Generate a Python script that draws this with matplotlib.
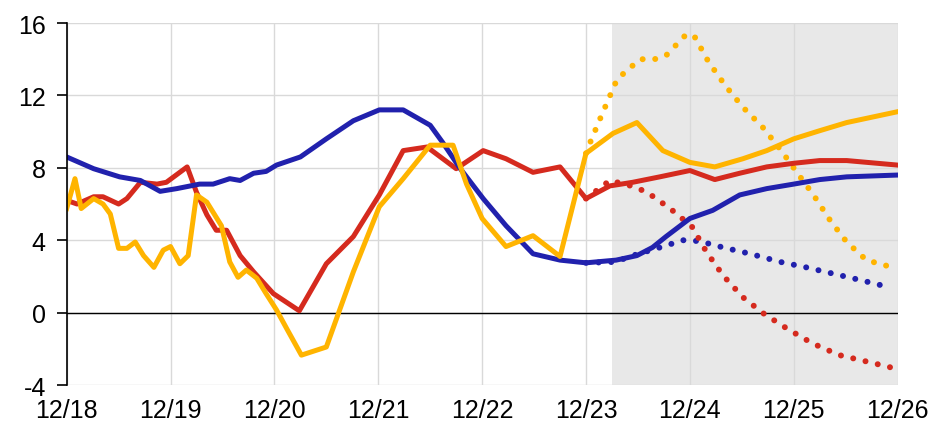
import numpy as np
import matplotlib.pyplot as plt

plt.rcParams['font.family'] = ['Liberation Sans', 'DejaVu Sans']
plt.rcParams['font.size'] = 18
plt.rcParams['axes.unicode_minus'] = False

# x in years since Dec 2018
tick_labels = ['12/18', '12/19', '12/20', '12/21', '12/22', '12/23', '12/24', '12/25', '12/26']
forecast_start = 5.25

blue_x = [0.0, 0.26, 0.51, 0.71, 0.90, 1.06, 1.28, 1.41, 1.57, 1.67, 1.80, 1.92, 2.02, 2.25, 2.50,
          2.76, 3.01, 3.24, 3.50, 3.62, 3.79, 4.01, 4.23, 4.49, 4.75, 5.00, 5.29, 5.49, 5.64,
          5.77, 6.00, 6.22, 6.48, 6.74, 7.00, 7.25, 7.51, 8.0]
blue_y = [8.6, 7.95, 7.5, 7.3, 6.7, 6.85, 7.1, 7.1, 7.4, 7.3, 7.7, 7.8, 8.15, 8.6, 9.6,
          10.6, 11.2, 11.2, 10.35, 9.4, 7.95, 6.3, 4.8, 3.25, 2.9, 2.75, 2.9, 3.15, 3.6,
          4.2, 5.2, 5.65, 6.5, 6.85, 7.1, 7.35, 7.5, 7.6]

red_x = [0.0, 0.10, 0.26, 0.35, 0.50, 0.58, 0.71, 0.87, 0.96, 1.16, 1.25, 1.35, 1.44, 1.54,
         1.67, 1.80, 1.99, 2.24, 2.50, 2.76, 3.01, 3.24, 3.47, 3.75, 4.01, 4.23, 4.49, 4.75,
         5.00, 5.23, 5.45, 5.71, 6.00, 6.24, 6.48, 6.74, 7.00, 7.25, 7.51, 8.0]
red_y = [6.2, 6.0, 6.4, 6.4, 6.0, 6.3, 7.2, 7.1, 7.2, 8.05, 6.65, 5.4, 4.55, 4.55,
         3.15, 2.25, 1.05, 0.1, 2.7, 4.2, 6.5, 8.95, 9.15, 7.95, 8.95, 8.5, 7.75, 8.05,
         6.3, 7.0, 7.2, 7.5, 7.85, 7.35, 7.7, 8.05, 8.25, 8.4, 8.4, 8.15]

yellow_x = [0.0, 0.08, 0.14, 0.26, 0.35, 0.42, 0.50, 0.58, 0.66, 0.74, 0.84, 0.93, 1.0, 1.09,
            1.17, 1.25, 1.35, 1.49, 1.57, 1.65, 1.73, 1.83, 1.92, 2.02, 2.12, 2.26, 2.50,
            2.76, 3.01, 3.24, 3.50, 3.72, 3.85, 4.00, 4.23, 4.49, 4.75, 5.0, 5.26, 5.49,
            5.74, 6.00, 6.24, 6.51, 6.74, 7.00, 7.25, 7.51, 8.0]
yellow_y = [5.75, 7.4, 5.75, 6.3, 6.0, 5.45, 3.55, 3.55, 3.9, 3.15, 2.5, 3.45, 3.65, 2.7,
            3.15, 6.5, 6.1, 4.8, 2.8, 1.95, 2.35, 1.9, 1.05, 0.15, -0.9, -2.35, -1.9,
            2.25, 5.85, 7.4, 9.25, 9.25, 7.1, 5.2, 3.65, 4.25, 3.1, 8.8, 9.9, 10.5,
            8.95, 8.3, 8.05, 8.5, 8.95, 9.6, 10.05, 10.5, 11.1]

# alternative scenarios (dotted)
blue_alt_x = [5.0, 5.28, 5.45, 5.77, 5.93, 6.09, 6.32, 6.58, 6.87, 7.12, 7.38, 7.64, 7.92]
blue_alt_y = [2.75, 2.8, 3.15, 3.7, 4.0, 3.95, 3.6, 3.25, 2.8, 2.5, 2.15, 1.8, 1.4]

red_alt_x = [5.0, 5.23, 5.47, 5.6, 5.81, 6.02, 6.16, 6.32, 6.51, 6.71, 6.94, 7.18, 7.44, 7.70, 7.95]
red_alt_y = [6.3, 7.3, 6.95, 6.6, 5.75, 4.75, 3.35, 2.05, 0.85, -0.05, -0.9, -1.7, -2.35, -2.7, -3.05]

yellow_alt_x = [5.0, 5.04, 5.15, 5.30, 5.52, 5.66, 5.77, 5.97, 6.05, 6.18, 6.34, 6.51, 6.70,
                6.88, 7.03, 7.19, 7.35, 7.51, 7.70, 7.95]
yellow_alt_y = [8.8, 9.4, 10.9, 12.9, 14.0, 14.0, 14.2, 15.4, 15.2, 13.85, 12.55, 11.35,
                10.25, 8.95, 7.75, 6.5, 5.1, 3.9, 2.9, 2.5]

blue = '#2121ad'
red = '#d52a1e'
yellow = '#ffb400'

fig = plt.figure(figsize=(9.35, 4.31), dpi=100)
ax = fig.add_axes([0.0713, 0.1044, 0.8887, 0.8399])

ax.axvspan(forecast_start, 8, color='#e8e8e8', zorder=0, lw=0)
ax.axhline(0, color='black', lw=1.0, zorder=1)

lw = 3.6
ax.plot(blue_x, blue_y, color=blue, lw=lw, zorder=4)
ax.plot(red_x, red_y, color=red, lw=lw, zorder=3)
ax.plot(yellow_x, yellow_y, color=yellow, lw=lw, zorder=5)

dot = dict(lw=4.3, linestyle=(0, (0.01, 2.1)), dash_capstyle='round', zorder=2)
ax.plot(blue_alt_x, blue_alt_y, color=blue, **dot)
ax.plot(red_alt_x, red_alt_y, color=red, **dot)
ax.plot(yellow_alt_x, yellow_alt_y, color=yellow, **dot)

ax.set_xlim(0, 8)
ax.set_ylim(-4, 16)
ax.set_xticks(np.arange(9))
ax.set_xticklabels(tick_labels)
ax.set_yticks([-4, 0, 4, 8, 12, 16])
ax.grid(True, color='#d9d9d9', lw=1.0, zorder=0)
ax.set_axisbelow(True)

for s in ['top', 'right', 'bottom']:
    ax.spines[s].set_visible(False)
ax.spines['left'].set_linewidth(1.2)
ax.spines['left'].set_zorder(6)
ax.tick_params(axis='x', length=0, pad=9)
ax.tick_params(axis='y', length=7, width=1.2, pad=8, direction='out')

fig.savefig('out.png', dpi=100)
